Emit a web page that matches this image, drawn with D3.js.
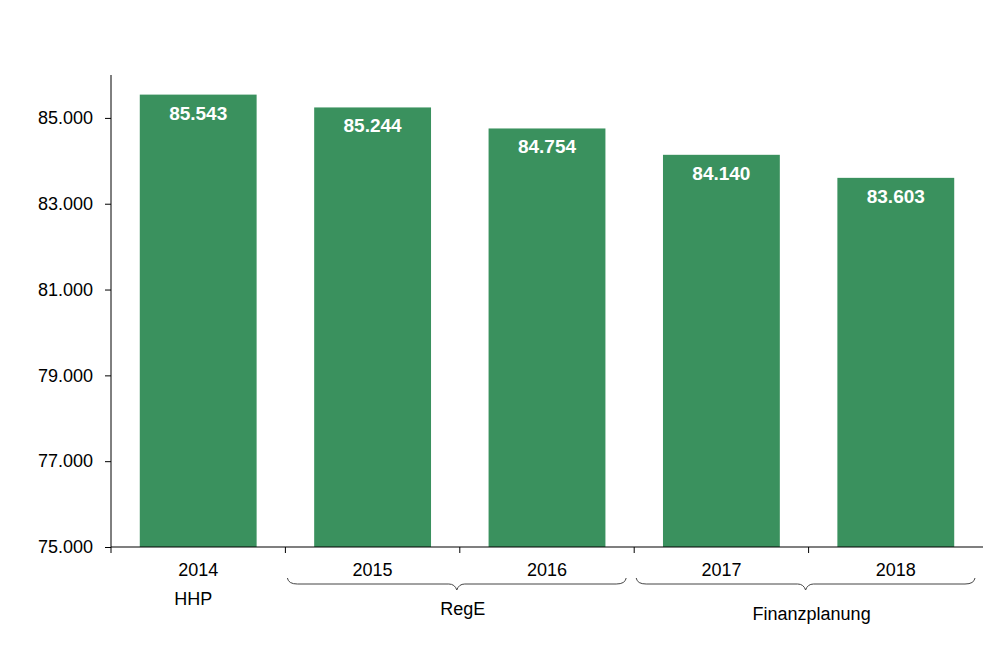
<!DOCTYPE html>
<html><head><meta charset="utf-8">
<script src="https://cdn.jsdelivr.net/npm/d3@7"></script>
<style>body{margin:0;background:#fff}svg{display:block;font-family:"Liberation Sans",Arial,sans-serif}</style>
</head><body>
<svg id="c" width="1000" height="666"></svg>
<script>
const years = ["2014","2015","2016","2017","2018"];
const values = [85543, 85244, 84754, 84140, 83603];
const valueLabels = ["85.543","85.244","84.754","84.140","83.603"];
const yTicks = [75000, 77000, 79000, 81000, 83000, 85000];
const yTickLabels = ["75.000","77.000","79.000","81.000","83.000","85.000"];
const groups = [
  {label:"HHP", from:"2014", to:"2014", brace:false},
  {label:"RegE", from:"2015", to:"2016", brace:true},
  {label:"Finanzplanung", from:"2017", to:"2018", brace:true}
];

const svg = d3.select("#c");
const x = d3.scaleBand().domain(years).range([111, 983]).paddingInner(0.33).paddingOuter(0.165);
const y = d3.scaleLinear().domain([75000, 86000]).range([547, 75]);
const color = "#3a915e";

// bars
svg.selectAll("rect.bar").data(years).join("rect")
  .attr("x", d => x(d)).attr("width", x.bandwidth())
  .attr("y", (d,i) => y(values[i])).attr("height", (d,i) => y(75000) - y(values[i]))
  .attr("fill", color);

svg.selectAll("text.val").data(years).join("text")
  .attr("x", d => x(d) + x.bandwidth()/2)
  .attr("y", (d,i) => y(values[i]) + 25)
  .attr("text-anchor","middle").attr("fill","#fff")
  .attr("font-weight","bold").attr("font-size","19px")
  .text((d,i) => valueLabels[i]);

// y axis
const yAxis = d3.axisLeft(y).tickValues(yTicks).tickFormat((d,i)=>yTickLabels[i]).tickSize(6).tickPadding(12);
const gy = svg.append("g").attr("transform","translate(111,0)").call(yAxis);
gy.select(".domain").attr("d","M0,75V547").attr("stroke","#000");
gy.selectAll("text").attr("font-size","18px").attr("fill","#000").style("font-family","Liberation Sans, Arial, sans-serif");
gy.selectAll(".tick line").attr("stroke","#000");

// x axis line with band-boundary ticks
const step = x.step();
const x0 = 111;
svg.append("line").attr("x1",x0).attr("x2",983).attr("y1",547).attr("y2",547).attr("stroke","#000").attr("stroke-width",1.2);
const bounds = d3.range(years.length).map(i => x0 + i*step);
svg.selectAll("line.xt").data(bounds).join("line")
  .attr("x1",d=>d).attr("x2",d=>d).attr("y1",547).attr("y2",553)
  .attr("stroke","#000");

svg.selectAll("text.yr").data(years).join("text")
  .attr("x", d => x(d) + x.bandwidth()/2).attr("y", 576)
  .attr("text-anchor","middle").attr("font-size","18px").attr("fill","#000")
  .text(d => d);

// groups with braces
groups.forEach(g => {
  const a = x(g.from) - x.step()*x.paddingInner()/2 + 2;
  const b = x(g.to) + x.bandwidth() + x.step()*x.paddingInner()/2 - 8;
  const m = (a+b)/2;
  if (g.brace) {
    const t = 578, yl = 584, tip = 590;
    const p = `M${a},${t} Q${a+1},${yl} ${a+10},${yl} L${m-8},${yl} Q${m-2},${yl} ${m},${tip} Q${m+2},${yl} ${m+8},${yl} L${b-10},${yl} Q${b-1},${yl} ${b},${t}`;
    svg.append("path").attr("d",p).attr("fill","none").attr("stroke","#444").attr("stroke-width",1);
    svg.append("text").attr("x",m+6).attr("y",g.label==="RegE"?615:620).attr("text-anchor","middle")
      .attr("font-size","18px").attr("fill","#000").text(g.label);
  } else {
    svg.append("text").attr("x",m-2).attr("y",605).attr("text-anchor","middle")
      .attr("font-size","18px").attr("fill","#000").text(g.label);
  }
});
</script>
</body></html>
